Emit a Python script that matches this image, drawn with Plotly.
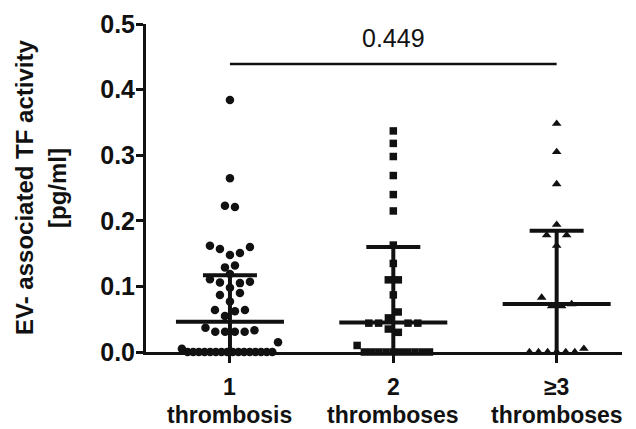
import numpy as np
import plotly.graph_objects as go

# ---------------- data ----------------
categories = [1, 2, 3]
category_line1 = ["1", "2", "≥3"]
category_line2 = ["thrombosis", "thromboses", "thromboses"]

# values per group, listed row by row as they appear in the dot plot
g1_rows = [
    [0.384], [0.265], [0.223, 0.221],
    [0.162, 0.157, 0.148, 0.151, 0.160],
    [0.129, 0.132],
    [0.111, 0.106, 0.119, 0.105, 0.107],
    [0.087, 0.098, 0.090],
    [0.077],
    [0.064, 0.055, 0.062, 0.064],
    [0.037, 0.031, 0.031, 0.031, 0.031, 0.033],
    [0.005] + [0.0] * 16 + [0.015],
]
g2_rows = [
    [0.337], [0.318], [0.298], [0.269], [0.240], [0.215], [0.163], [0.135],
    [0.110, 0.110],
    [0.087],
    [0.044, 0.044, 0.052, 0.061, 0.044, 0.044],
    [0.035, 0.030],
    [0.010] + [0.0] * 10,
]
g3_rows = [
    [0.348], [0.305], [0.256],
    [0.178, 0.194, 0.178],
    [0.162],
    [0.083, 0.070, 0.070, 0.073],
    [0.0] * 6 + [0.005],
]
medians = [0.046, 0.045, 0.073]
lower_quartiles = [0.0, 0.0, 0.0]
upper_quartiles = [0.117, 0.160, 0.185]
y_ticks = [0.0, 0.1, 0.2, 0.3, 0.4, 0.5]
p_value_text = "0.449"
p_value_level = 0.439
y_title_lines = ["EV- associated TF activity", "[pg/ml]"]

# ---------------- layout geometry ----------------
PAGE_PAD = 8                      # default body margin of the html page
W, H = 636 - PAGE_PAD, 429 - PAGE_PAD
M_L, M_T = 146 - PAGE_PAD, 24 - PAGE_PAD
PLOT_RIGHT, PLOT_BOTTOM = 622 - PAGE_PAD, 352 - PAGE_PAD
M_R, M_B = W - PLOT_RIGHT, H - PLOT_BOTTOM
PLOT_W = PLOT_RIGHT - M_L
X_MIN, X_MAX = 0.486, 3.40
UX = PLOT_W / (X_MAX - X_MIN)  # pixels per x unit

FONT = "Liberation Sans, Arial, Helvetica, sans-serif"
INK = "#111111"


def row_layout(rows, center):
    xs, ys = [], []
    for row in rows:
        n = len(row)
        sp = min(10.0, 24.0 / np.sqrt(n))
        for i, v in enumerate(row):
            off_px = (i - (n - 1) / 2.0) * sp
            xs.append(center + off_px / UX)
            ys.append(v)
    return xs, ys


fig = go.Figure()

groups = [(g1_rows, "circle", 8.5), (g2_rows, "square", 7.5), (g3_rows, "triangle-up", 8.5)]
for cat, (rows, sym, size) in zip(categories, groups):
    xs, ys = row_layout(rows, cat)
    fig.add_trace(go.Scatter(
        x=xs, y=ys, mode="markers", cliponaxis=False,
        marker=dict(symbol=sym, size=size, color=INK, line=dict(width=0)),
        showlegend=False, hoverinfo="skip"))

cap_half = 27.0 / UX
med_half = 54.0 / UX
for cat, med, lo, hi in zip(categories, medians, lower_quartiles, upper_quartiles):
    fig.add_trace(go.Scatter(x=[cat, cat], y=[lo, hi], mode="lines", cliponaxis=False,
                             line=dict(color=INK, width=4), showlegend=False, hoverinfo="skip"))
    fig.add_trace(go.Scatter(x=[cat - cap_half, cat + cap_half], y=[hi, hi], mode="lines",
                             cliponaxis=False, line=dict(color=INK, width=4),
                             showlegend=False, hoverinfo="skip"))
    fig.add_trace(go.Scatter(x=[cat - med_half, cat + med_half], y=[med, med], mode="lines",
                             cliponaxis=False, line=dict(color=INK, width=4),
                             showlegend=False, hoverinfo="skip"))

# significance bracket
fig.add_shape(type="line", xref="x", yref="y", x0=categories[0], x1=categories[-1],
              y0=p_value_level, y1=p_value_level, line=dict(color=INK, width=2.5))
fig.add_annotation(x=(categories[0] + categories[-1]) / 2, y=p_value_level, xref="x", yref="y",
                   text=p_value_text, showarrow=False, yanchor="middle", yshift=26,
                   font=dict(family=FONT, size=25, color=INK))

# y axis title as two rotated lines
for txt, px in zip(y_title_lines, [24, 57]):
    fig.add_annotation(x=(px - PAGE_PAD - M_L) / PLOT_W, y=0.5, xref="paper", yref="paper",
                       text=txt, textangle=-90, showarrow=False,
                       xanchor="center", yanchor="middle",
                       font=dict(family=FONT, size=24, color=INK, weight="bold"))

# category labels (two lines each)
for cat, l1, l2 in zip(categories, category_line1, category_line2):
    for txt, dy in ((l1, -35), (l2, -63)):
        fig.add_annotation(x=cat, y=0, xref="x", yref="paper", text=txt, showarrow=False,
                           xanchor="center", yanchor="middle", yshift=dy,
                           font=dict(family=FONT, size=23, color=INK, weight="bold"))

fig.update_xaxes(range=[X_MIN, X_MAX], tickvals=categories, showticklabels=False,
                 automargin=False,
                 showgrid=False, zeroline=False, showline=True, linewidth=3, linecolor=INK,
                 ticks="outside", ticklen=8, tickwidth=3, tickcolor=INK)
fig.update_yaxes(range=[0, 0.5], tickvals=y_ticks, tickformat=".1f",
                 automargin=False, ticklabelstandoff=-4,
                 showgrid=False, zeroline=False, showline=True, linewidth=3, linecolor=INK,
                 ticks="outside", ticklen=7, tickwidth=3, tickcolor=INK,
                 tickfont=dict(family=FONT, size=25, color=INK, weight="bold"))

fig.update_layout(width=W, height=H, margin=dict(l=M_L, r=M_R, t=M_T, b=M_B, autoexpand=False),
                  plot_bgcolor="white", paper_bgcolor="white",
                  font=dict(family=FONT, color=INK))

fig.write_html("out.html")
